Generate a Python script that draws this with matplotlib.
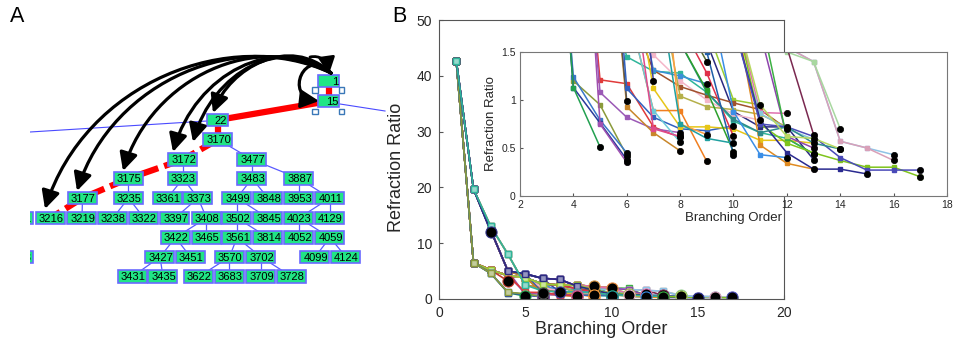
import numpy as np
import matplotlib
matplotlib.use('Agg')
import matplotlib.pyplot as plt
import matplotlib.colors as mc
from matplotlib.patches import Rectangle, FancyArrowPatch
from matplotlib.path import Path

plt.rcParams['font.family'] = ['Liberation Sans', 'DejaVu Sans']

# ---------------- panel A : branch tree (diagram coords = pixels) ----------------
node_ids = ['1', '15', '22', '3170', '3172', '3477', '3175', '3323', '3483', '3887',
            '3177', '3235', '3361', '3373', '3499', '3848', '3953', '4011',
            '3211', '3216', '3219', '3238', '3322', '3397', '3408', '3502', '3845', '4023', '4129',
            '3422', '3465', '3561', '3814', '4052', '4059',
            '3213', '3427', '3451', '3570', '3702', '4099', '4124',
            '3431', '3435', '3622', '3683', '3709', '3728']
node_x = [329, 329, 218, 218, 183, 252, 128.5, 183, 252, 299,
          82.5, 128.5, 167.5, 198, 237, 268, 299, 330,
          19, 50.5, 82, 113, 144, 175, 206.5, 237, 268, 299, 330,
          175.5, 206.5, 237, 268, 299, 330,
          19, 160, 190.5, 229.5, 261, 315, 346,
          132.5, 163, 199, 229.5, 261, 291.5]
node_y = [81, 101, 120, 139.5, 159.5, 159.5, 178.5, 178.5, 178.5, 178.5,
          198, 198, 198, 198, 198, 198, 198, 198,
          218, 218, 218, 218, 218, 218, 218, 218, 218, 218, 218,
          237.5, 237.5, 237.5, 237.5, 237.5, 237.5,
          257, 257, 257, 257, 257, 257, 257,
          276.5, 276.5, 276.5, 276.5, 276.5, 276.5]
tree_edges = [('3170', '3477'), ('3172', '3323'), ('3477', '3483'), ('3477', '3887'),
              ('3175', '3235'), ('3323', '3361'), ('3323', '3373'), ('3483', '3499'),
              ('3483', '3848'), ('3887', '3953'), ('3887', '4011'), ('3177', '3219'),
              ('3235', '3238'), ('3235', '3322'), ('3373', '3397'), ('3373', '3408'),
              ('3499', '3502'), ('3499', '3845'), ('4011', '4023'), ('4011', '4129'),
              ('3408', '3422'), ('3408', '3465'), ('3502', '3561'), ('3502', '3814'),
              ('4023', '4052'), ('4023', '4059'), ('3422', '3427'), ('3422', '3451'),
              ('3561', '3570'), ('3561', '3702'), ('4059', '4099'), ('4059', '4124'),
              ('3427', '3431'), ('3427', '3435'), ('3570', '3622'), ('3570', '3683'),
              ('3702', '3709'), ('3702', '3728')]
red_path = ['1', '15', '22', '3170', '3172', '3175', '3177', '3216']
arrow_tip_x = [45, 77, 123, 173, 193, 213]
arrow_tip_y = [209, 191, 171, 152, 142, 113]

# ---------------- panel B : refraction ratio vs branching order ----------------
ratio_curves = [
    [42.7, 19.7, 13.0, 8.0, 2.5, 1.45, 1.30, 1.28, 1.08, 0.78, 0.66, 0.60, 0.44],
    [42.7, 19.7, 12.3, 5.0, 4.5, 3.7, 3.5, 2.3, 1.6, 0.88, 0.72, 0.72, 0.38],
    [42.7, 19.7, 12.0],
    [42.7, 6.5, 4.6, 1.2, 0.95, 0.42],
    [42.7, 6.5, 4.6, 1.24, 0.79, 0.45],
    [42.7, 6.5, 4.6, 1.13, 0.76, 0.38],
    [42.7, 6.5, 4.6, 1.13, 0.51],
    [42.7, 6.5, 5.2, 4.2, 3.8, 2.7, 2.5, 2.5, 1.75, 1.0, 0.95],
    [42.7, 6.5, 5.2, 3.2],
    [42.7, 6.5, 5.2, 4.2, 1.21, 1.17, 0.72, 0.61],
    [42.7, 6.5, 5.2, 4.2, 1.08, 0.82, 0.70, 0.66],
    [42.7, 19.7, 12.3, 5.0, 0.75, 0.35],
    [42.7, 19.7, 12.3, 5.0, 4.0, 0.93, 0.66, 0.47],
    [42.7, 19.7, 12.3, 5.0, 4.0, 0.99],
    [42.7, 19.7, 12.3, 5.0, 4.5, 1.12, 0.82, 0.70, 0.68, 0.73],
    [42.7, 6.5, 5.2, 4.2, 3.8, 2.0, 1.47, 1.20, 1.00, 0.85, 0.79],
    [42.7, 6.5, 5.2, 4.2, 3.8, 2.0, 1.31, 1.14, 1.05, 0.97, 0.90, 0.70],
    [42.7, 6.5, 5.2, 4.2, 3.8, 2.7, 1.31, 1.25, 1.17],
    [42.7, 6.5, 5.2, 4.2, 3.8, 2.7, 1.12, 0.72, 0.72, 0.70, 0.58, 0.58, 0.55],
    [42.7, 19.7, 13.0, 8.0, 2.5, 2.0, 0.89, 0.89, 0.36],
    [42.7, 19.7, 13.0, 8.0, 2.5, 2.0, 0.89, 0.56],
    [42.7, 6.5, 5.2, 4.2, 3.8, 2.7, 2.5, 1.8, 1.28, 0.62],
    [42.7, 6.5, 5.2, 4.2, 3.8, 2.7, 2.5, 1.9, 1.40],
    [42.7, 19.7, 12.3, 5.0, 4.5, 3.7, 1.20],
    [42.7, 6.5, 5.2, 4.2, 3.8, 2.7, 2.5, 1.04, 0.93, 0.90, 0.85, 0.72],
    [42.7, 6.5, 5.2, 4.2, 3.8, 2.7, 2.5, 2.5, 2.2, 2.0, 0.87, 0.86],
    [42.7, 6.5, 5.2, 4.2, 3.8, 2.7, 2.5, 2.5, 2.25],
    [42.7, 6.5, 5.2, 4.2, 3.8, 2.7, 2.5, 2.5, 2.2, 2.0],
    [42.7, 19.7, 13.0, 8.0, 2.5, 2.0, 1.9, 1.85, 1.8, 1.75, 0.86, 0.70, 0.59],
    [42.7, 6.5, 5.2, 4.2, 3.8, 2.7, 2.5, 2.5, 2.2, 2.0, 0.53, 0.34, 0.28],
    [42.7, 19.7, 12.3, 5.0, 4.5, 3.7, 3.5, 2.3, 2.0, 1.9, 1.7, 0.62, 0.50],
    [42.7, 6.5, 5.2, 4.2, 3.8, 2.7, 2.5, 2.5, 2.2, 2.0, 1.7, 1.55, 1.40, 0.57, 0.50, 0.43],
    [42.7, 6.5, 5.2, 4.2, 3.8, 2.7, 2.5, 2.5, 2.2, 2.0, 1.7, 1.55, 1.40, 0.57, 0.50, 0.37],
    [42.7, 6.5, 5.2, 4.2, 3.8, 2.7, 2.5, 2.5, 2.2, 2.0, 1.7, 1.50, 1.40, 0.70],
    [42.7, 6.5, 5.2, 4.2, 3.8, 2.7, 2.5, 2.5, 2.2, 2.0, 1.7, 1.55, 0.64],
    [42.7, 6.5, 5.2, 4.2, 3.8, 2.7, 2.5, 2.5, 2.2, 2.0, 1.9, 0.60, 0.44],
    [42.7, 6.5, 5.2, 4.2, 3.8, 2.7, 2.5, 2.5, 2.2, 2.0, 0.75, 0.55, 0.45, 0.37, 0.30, 0.30, 0.20],
    [42.7, 19.7, 12.3, 5.0, 4.5, 3.7, 3.5, 2.3, 2.0, 1.8, 0.79, 0.45, 0.28, 0.28, 0.23],
    [42.7, 19.7, 12.3, 5.0, 4.5, 3.7, 3.5, 2.3, 2.0, 1.8, 0.75, 0.72, 0.62, 0.40, 0.27, 0.27, 0.27],
    [42.7, 19.7, 13.0, 8.0, 2.5, 2.0, 1.9, 1.6, 1.08, 0.80, 0.66, 0.72, 0.55, 0.49],
    [42.7, 6.5, 5.2, 4.2, 3.8, 2.7, 2.5, 2.5, 2.2, 0.88, 0.43, 0.40],
    [42.7, 6.5, 5.2, 4.2, 3.8, 2.7, 2.5, 1.6, 1.1, 0.46],
    [42.7, 19.7, 12.3, 5.0, 4.5, 3.7, 3.5, 2.3, 1.5, 0.43],
    [42.7, 6.5, 5.2, 4.2, 3.8, 2.7, 2.5, 2.5, 2.2, 2.0, 0.95, 0.62, 0.60, 0.49],
    [42.7, 6.5, 5.2, 4.2, 3.8, 2.7, 0.70, 0.62],
    [42.7, 19.7, 12.3, 5.0, 4.5, 3.7, 3.5, 0.75, 0.64],
    [42.7, 6.5, 5.2, 4.2, 3.8, 2.7, 2.5, 0.75, 0.60, 0.55],
]
curve_colors = ['#2fb59a', '#2b2b80', '#33338a', '#8a9a3a', '#3a78c8', '#2a3a9a', '#22a050',
                '#9acd32', '#c0392b', '#e03a3a', '#9b59b6', '#a050b0', '#c8862a', '#555555',
                '#3060c0', '#f4b6c8', '#a0522d', '#3b8fd8', '#e6c619', '#f07f20', '#6ccad8',
                '#e0304a', '#556b2f', '#4040a0', '#b5b04a', '#e070b0', '#d09040', '#e8883a',
                '#88c8d8', '#e08a20', '#8e44ad', '#8fc3e6', '#d9a0b8', '#a8d8a0', '#7a2850',
                '#3cb043', '#7fc41c', '#2a2a90', '#4a4ab8', '#2e8b8b', '#3a8ee6', '#2ca02c',
                '#1f5fa8', '#b8d860', '#e04a8a', '#ff9f40', '#20a0a0']


def lighten(c, f=0.5):
    r = np.array(mc.to_rgb(c))
    return tuple(r + (1 - r) * f)


fig = plt.figure(figsize=(9.54, 3.45), dpi=100)

# ---- panel A
axA = fig.add_axes([30 / 954, 0, 370 / 954, 1])
axA.set_xlim(30, 400)
axA.set_ylim(345, 0)
axA.axis('off')
pos = {n: (x, y) for n, x, y in zip(node_ids, node_x, node_y)}

axA.plot([30, 207], [132, 121], color='#4a4aff', lw=0.8, zorder=1)
axA.plot([340, 385], [104, 111], color='#4a4aff', lw=0.8, zorder=1)
for a, b in tree_edges:
    axA.plot([pos[a][0], pos[b][0]], [pos[a][1], pos[b][1]], color='#5a5aff', lw=0.9, zorder=1)
for i, (a, b) in enumerate(zip(red_path[:-1], red_path[1:])):
    ls = '-' if i < 3 else (0, (3.2, 1.0))
    axA.plot([pos[a][0], pos[b][0]], [pos[a][1], pos[b][1]], color='#ff0000', lw=4.5,
             ls=ls, solid_capstyle='butt', zorder=2)

for n in node_ids:
    x, y = pos[n]
    w = 29 if len(n) == 4 else 21
    h = 12.5
    axA.add_patch(Rectangle((x - w / 2, y - h / 2), w, h, facecolor='#20e585',
                            edgecolor='#6a6aff', lw=1.2, zorder=3))
    axA.text(x + w / 2 - 1.5, y + 0.6, n, ha='right', va='center', fontsize=8,
             color='black', zorder=8 if len(n) < 4 else 4, clip_on=True)

for hx, hy in [(315, 90), (341.5, 90), (315, 111.5), (341.5, 111.5)]:
    axA.add_patch(Rectangle((hx - 2.7, hy - 2.7), 5.4, 5.4, facecolor='white',
                            edgecolor='#3a78b8', lw=1.0, zorder=7))

src = (331, 73)
head = '-|>,head_length=0.9,head_width=0.45'
for tx, ty in zip(arrow_tip_x, arrow_tip_y):
    span = src[0] - tx
    verts = [src, (src[0] - 0.35 * span, 40 - 0.05 * span),
             (tx + 0.14 * span, ty - 0.85 * (ty - 60)), (tx, ty)]
    p = Path(verts, [Path.MOVETO, Path.CURVE4, Path.CURVE4, Path.CURVE4])
    axA.add_patch(FancyArrowPatch(path=p, arrowstyle=head,
                                  mutation_scale=12, lw=2.3, color='black', zorder=6))
loop = Path([src, (305, 45), (283, 97), (319, 101)],
            [Path.MOVETO, Path.CURVE4, Path.CURVE4, Path.CURVE4])
axA.add_patch(FancyArrowPatch(path=loop, arrowstyle=head,
                              mutation_scale=12, lw=2.3, color='black', zorder=6))
top = Path([(310, 57), (320, 55), (327, 60), (329, 74)],
           [Path.MOVETO, Path.CURVE4, Path.CURVE4, Path.CURVE4])
axA.add_patch(FancyArrowPatch(path=top, arrowstyle=head,
                              mutation_scale=11, lw=2.0, color='black', zorder=6))

fig.text(17 / 954, 1 - 16.5 / 345, 'A', ha='center', va='center', fontsize=15.5)
fig.text(399 / 954, 1 - 17 / 345, 'B', ha='center', va='center', fontsize=15.5)

# ---- panel B main
txt = '#262626'
ax = fig.add_axes([439 / 954, 46 / 345, 345 / 954, 279 / 345])
for vals, col in list(zip(ratio_curves, curve_colors))[::-1]:
    order = np.arange(1, len(vals) + 1)
    ax.plot(order, vals, '-s', color=col, lw=1.2, ms=5, mfc=lighten(col), mec=col, mew=1.0)
for vals, col in zip(ratio_curves, curve_colors):
    ax.plot(len(vals), vals[-1], 'o', ms=8, mfc='black', mec=col, mew=0.8)
ax.set_xlim(0, 20)
ax.set_ylim(0, 50)
ax.set_xticks([0, 5, 10, 15, 20])
ax.set_yticks([0, 10, 20, 30, 40, 50])
ax.tick_params(direction='in', length=3, labelsize=10, colors='#555555', labelcolor=txt, pad=5)
for s in ax.spines.values():
    s.set_color('#555555')
    s.set_linewidth(0.8)
ax.set_xlabel('Branching Order', fontsize=13, color=txt)
ax.set_ylabel('Refraction Ratio', fontsize=13, color=txt)
ax.xaxis.set_label_coords(0.47, -0.08)
ax.yaxis.set_label_coords(-0.099, 0.47)

# ---- inset
axi = fig.add_axes([520 / 954, 149 / 345, 427 / 954, 144 / 345])
axi.set_facecolor('white')
for vals, col in zip(ratio_curves, curve_colors):
    order = np.arange(1, len(vals) + 1)
    axi.plot(order, vals, '-s', color=col, lw=1.1, ms=3.2, mfc=col, mec=col)
for vals, col in zip(ratio_curves, curve_colors):
    axi.plot(len(vals), vals[-1], 'o', ms=4.5, mfc='black', mec='black', mew=0.5)
axi.set_xlim(2, 18)
axi.set_ylim(0, 1.5)
axi.set_xticks(np.arange(2, 19, 2))
axi.set_yticks([0, 0.5, 1, 1.5])
axi.set_yticklabels(['0', '0.5', '1', '1.5'])
axi.tick_params(direction='in', length=2.5, labelsize=7.5, colors='#555555', labelcolor=txt, pad=3)
for s in axi.spines.values():
    s.set_color('#777777')
    s.set_linewidth(0.8)
axi.set_xlabel('Branching Order', fontsize=9.5, color=txt, labelpad=1)
axi.set_ylabel('Refraction Ratio', fontsize=9.5, color=txt, labelpad=3)

fig.savefig('out.png', dpi=100, facecolor='white')
